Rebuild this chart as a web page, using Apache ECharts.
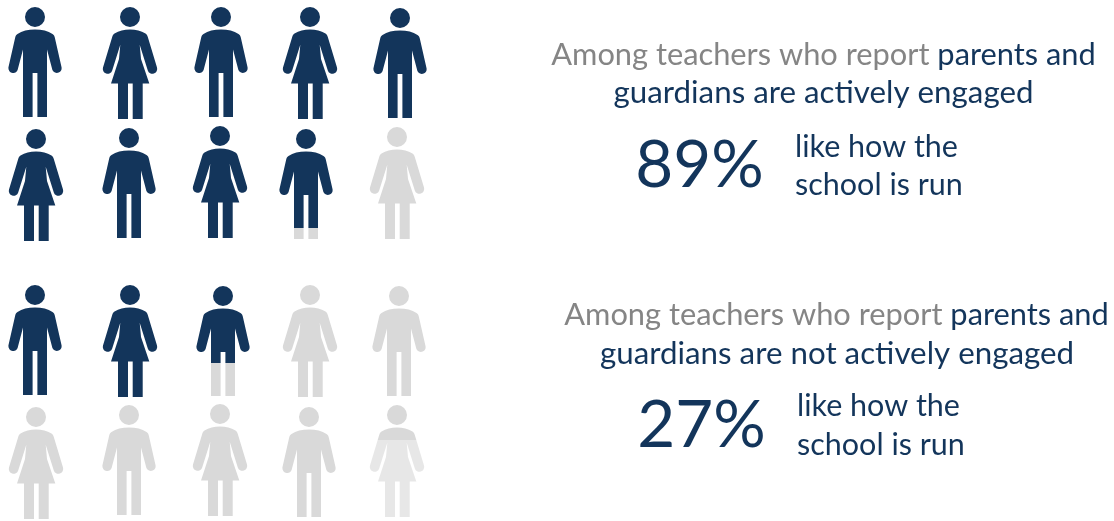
<!DOCTYPE html>
<html>
<head>
<meta charset="utf-8">
<style>html,body{margin:0;padding:0;background:#fff}#chart{width:1114px;height:521px}</style>
<script src="https://cdn.jsdelivr.net/npm/echarts@6/dist/echarts.min.js"></script>
</head>
<body>
<div id="chart"></div>
<script>
// Share of teachers who like how the school is run, by reported engagement.
const groupNames = ['parents and guardians are actively engaged', 'parents and guardians are not actively engaged'];
const likeShares = [89, 27];
const figureKinds = ['man', 'woman', 'man', 'woman', 'man', 'woman', 'man', 'woman', 'man', 'woman'];
const lead = 'Among teachers who report ';
const titleDark = ['parents and', 'parents and'];
const titleSecond = ['guardians are actively engaged', 'guardians are not actively engaged'];
const likeLines = ['like how the', 'school is run'];

const NAVY = '#13355b';
const GREY = '#d9d9d9';
const PALE = '#e7e7e7';
const SLATE = '#858585';
const TEXT_FONT = 'Lato';

// Figure outlines, drawn around the centre of the head.
const HEAD = 'M-10 0A10 10 0 1 1 10 0A10 10 0 1 1 -10 0Z';
const OUTLINES = {
  man: HEAD + 'M0 12.6C-7 12.6 -13 14 -17.5 17C-18.9 18 -19.5 19 -19.8 20.5L-26.6 50.6A4.8 4.8 0 0 0 -17.4 53L-12 32.6L-12 100L-2.4 100L-2.4 56L2.4 56L2.4 100L12 100L12 32.6L17.4 53A4.8 4.8 0 0 0 26.6 50.6L19.8 20.5C19.5 19 18.9 18 17.5 17C13 14 7 12.6 0 12.6Z',
  woman: HEAD + 'M0 12.6C-6 12.6 -11 14 -15.5 16.5C-16.8 17.3 -17.4 18.5 -17.8 20L-27 50.6A4.8 4.8 0 0 0 -17.8 53.4L-9.7 27.7L-11 42L-19 66.6L-12 66.6L-12 102L-2 102L-2 66.6L2.7 66.6L2.7 102L12.7 102L12.7 66.6L19.3 66.6L11 42L9.7 27.7L17.8 53.4A4.8 4.8 0 0 0 27 50.6L17.8 20C17.4 18.5 16.8 17.3 15.5 16.5C11 14 6 12.6 0 12.6Z'
};

// Head centres of each figure on the page, one list per group.
const anchors = [
  [[35, 17], [130, 17], [221, 17], [310, 17], [400, 18], [36, 139], [129, 138], [220, 136], [306, 139], [397, 137]],
  [[35, 295], [130, 295], [223, 296], [310, 295], [399, 296], [36, 417], [129, 415], [220, 414], [309, 417], [397, 415]]
];
// The last figure of the second group is paler below a grey shoulder band.
const paleBand = [null, { figure: 9, from: 0.31 }];

function rowsFor(groupIndex) {
  const filled = likeShares[groupIndex] / 10;
  return figureKinds.map((kind, i) => {
    const share = Math.max(0, Math.min(1, filled - i));
    return [anchors[groupIndex][i][0], anchors[groupIndex][i][1], share, kind, i];
  });
}

function hardStops(at, top, bottom) {
  return new echarts.graphic.LinearGradient(0, 0, 0, 1, [
    { offset: 0, color: top }, { offset: at, color: top },
    { offset: at, color: bottom }, { offset: 1, color: bottom }
  ]);
}

function figureSeries(groupIndex) {
  const rows = rowsFor(groupIndex);
  return {
    type: 'custom',
    name: groupNames[groupIndex],
    coordinateSystem: 'cartesian2d',
    clip: false,
    silent: true,
    data: rows,
    renderItem(params, api) {
      const at = api.coord([api.value(0), api.value(1)]);
      const share = api.value(2);
      const row = rows[params.dataIndex];
      const band = paleBand[groupIndex];
      let fill = share >= 1 ? NAVY : share <= 0 ? GREY : hardStops(share, NAVY, GREY);
      if (band && band.figure === row[4]) fill = hardStops(band.from, GREY, PALE);
      return { type: 'path', x: at[0], y: at[1], shape: { pathData: OUTLINES[row[3]] }, style: { fill } };
    }
  };
}

function line(x, y, text, size, rich, align) {
  return {
    type: 'text', x, y, silent: true,
    style: { text, x: 0, y: 0, align: align || 'center', verticalAlign: 'middle', fontFamily: TEXT_FONT, fontSize: size, fill: NAVY, rich }
  };
}

const TITLE_SIZE = 30.8, SECOND_SIZE = 31.3, NOTE_SIZE = 30.5, BIG_SIZE = 65.5;
const titleRich = {
  g: { fill: SLATE, color: SLATE, fontFamily: TEXT_FONT, fontSize: TITLE_SIZE },
  d: { fill: NAVY, color: NAVY, fontFamily: TEXT_FONT, fontSize: TITLE_SIZE }
};

function textBlock(i, cx, y1, cx2, y2, bigX, bigY, noteX, noteY1, noteY2) {
  return [
    line(cx, y1, '{g|' + lead + '}{d|' + titleDark[i] + '}', TITLE_SIZE, titleRich),
    line(cx2, y2, titleSecond[i], SECOND_SIZE),
    line(bigX, bigY, likeShares[i] + '%', BIG_SIZE),
    line(noteX, noteY1, likeLines[0], NOTE_SIZE, null, 'left'),
    line(noteX, noteY2, likeLines[1], NOTE_SIZE, null, 'left')
  ];
}

const chart = echarts.init(document.getElementById('chart'), null, { renderer: 'canvas' });
chart.setOption({
  backgroundColor: '#ffffff',
  animation: false,
  grid: { left: 0, right: 0, top: 0, bottom: 0 },
  xAxis: { type: 'value', min: 0, max: 1114, show: false },
  yAxis: { type: 'value', min: 0, max: 521, inverse: true, show: false },
  series: [figureSeries(0), figureSeries(1)],
  graphic: { elements: [
    ...textBlock(0, 823.5, 55, 823.5, 93, 699.5, 166, 795, 147, 185),
    ...textBlock(1, 836.5, 315, 837, 354, 701.5, 426, 797, 406, 445)
  ] }
});
</script>
</body>
</html>
